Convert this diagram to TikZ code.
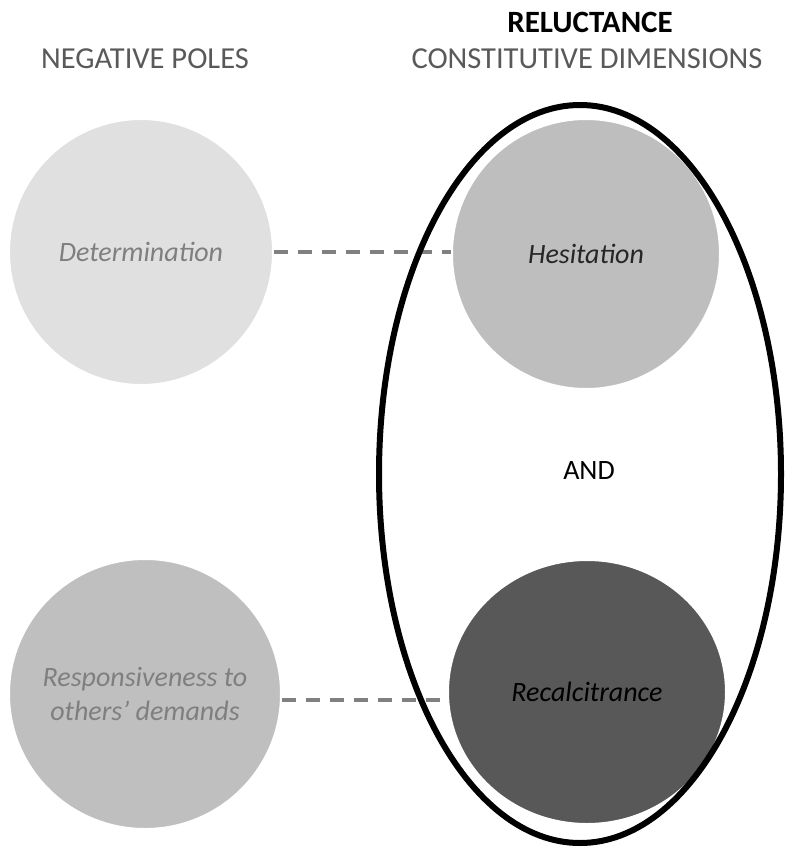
\documentclass[tikz,border=0pt]{standalone}
\usepackage{fontspec}
\setmainfont{Carlito}
\usetikzlibrary{shapes.geometric}
\definecolor{hdrgray}{HTML}{595959}
\definecolor{lblgray}{HTML}{7F7F7F}
\definecolor{detfill}{HTML}{E0E0E0}
\definecolor{hesfill}{HTML}{BEBEBE}
\definecolor{resfill}{HTML}{BFBFBF}
\definecolor{recfill}{HTML}{585858}
\definecolor{dashgray}{HTML}{808080}
\tikzset{
  blob/.style={ellipse, draw=white, line width=2pt, inner sep=-30pt, align=center, font=\fontsize{28}{34}\selectfont\itshape},
  header/.style={font=\fontsize{30.5}{36}\selectfont, text=hdrgray, inner sep=0pt},
  link/.style={draw=dashgray, line width=4pt, dash pattern=on 14pt off 10pt},
}
\begin{document}
\begin{tikzpicture}[x=1pt,y=-1pt]
\useasboundingbox (0,0) rectangle (790,848);
\node[header, font=\fontsize{31}{36}\selectfont\bfseries, text=black] (rel) at (590,22) {RELUCTANCE};
\node[header] (neg) at (145,59) {NEGATIVE POLES};
\node[header] (con) at (587,59) {CONSTITUTIVE DIMENSIONS};
\node[blob, fill=detfill, text=lblgray, minimum width=264pt, minimum height=266pt] (det) at (141,252) {Determination};
\node[blob, fill=hesfill, text=black!85, minimum width=268pt, minimum height=270pt] (hes) at (586,254) {Hesitation};
\node[blob, fill=resfill, text=lblgray, minimum width=272pt, minimum height=270pt] (res) at (145,694) {Responsiveness to\\others' demands};
\node[blob, fill=recfill, text=black, minimum width=278pt, minimum height=264pt] (rec) at (587,692) {Recalcitrance};
\draw[link] (det.east) -- (det.east -| hes.west);
\draw[link] (res.east |- 0,700) coordinate (r1) -- (rec.west |- r1);
\node[ellipse, draw=black, line width=6pt, minimum width=402pt, minimum height=738pt, inner sep=0pt] (rel-oval) at (580,474) {};
\node[font=\fontsize{28}{34}\selectfont, inner sep=0pt] (and) at (589,471) {AND};
\end{tikzpicture}
\end{document}
